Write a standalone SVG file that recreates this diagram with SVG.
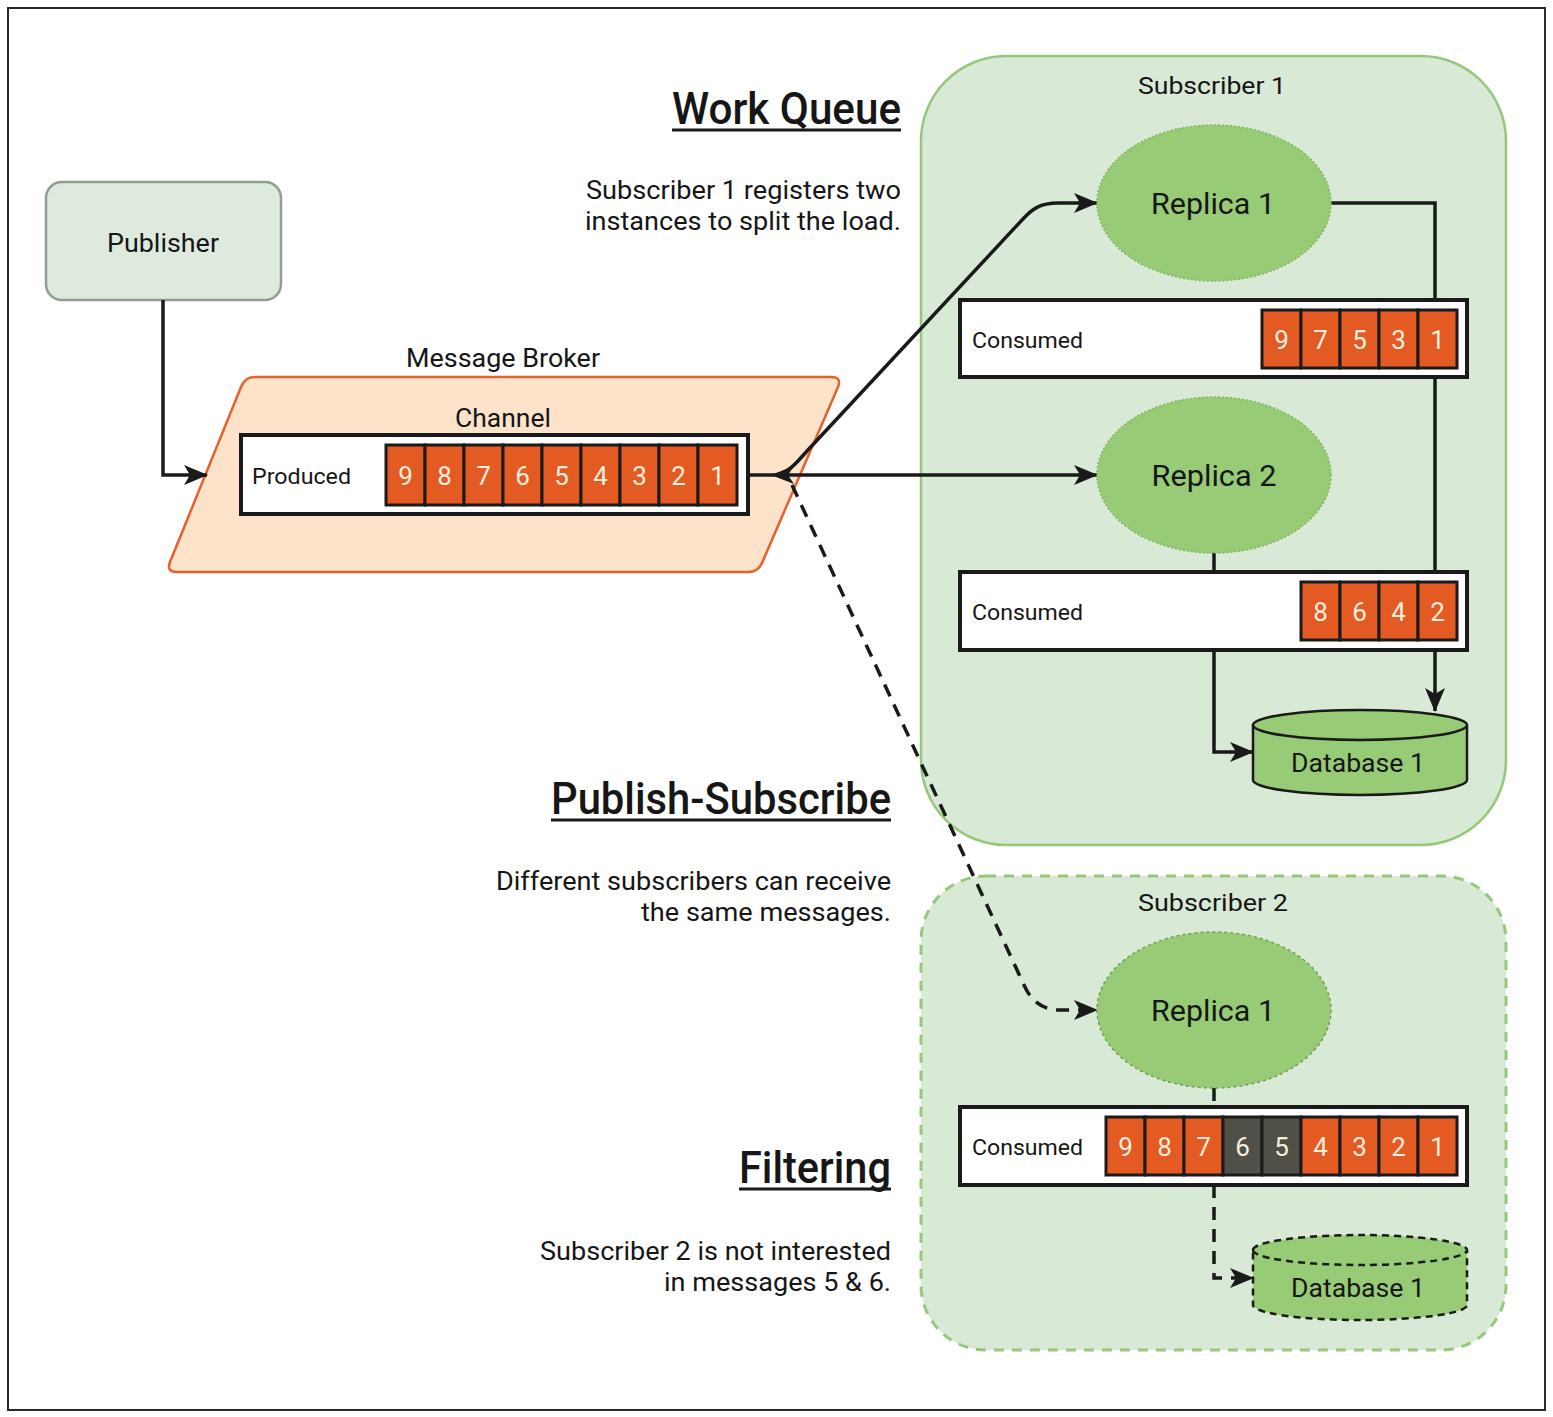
<svg xmlns="http://www.w3.org/2000/svg" width="1553" height="1417" viewBox="0 0 1553 1417">
<style>
text{font-family:Roboto,"Liberation Sans",Arial,sans-serif;fill:#161616}
.lbl{font-size:24px}
.sm{font-size:22px}
.title{font-size:44px;font-weight:500;text-anchor:end}
.note{font-size:25px;text-anchor:end}
.rep{font-size:30px;text-anchor:middle}
.num{font-size:26px;fill:#f6eedf;text-anchor:middle}
.cell{fill:#e35a22;stroke:#1a1a1a;stroke-width:3}
.grey{fill:#505048;stroke:#1a1a1a;stroke-width:3}
.box{fill:#ffffff;stroke:#1a1a1a;stroke-width:4}
.ell{fill:#97cb76;stroke:#82b464;stroke-width:1.5;stroke-dasharray:2 2}
.db{fill:#97cb76;stroke:#1a1a1a;stroke-width:2.5}
.ln{fill:none;stroke:#1a1a1a;stroke-width:3.5}
.dash{stroke-dasharray:13 9}
.ul{stroke:#1a1a1a;stroke-width:3}
</style>
<defs>
<marker id="arr" viewBox="0 0 24 20" refX="23" refY="10" markerWidth="24" markerHeight="20" markerUnits="userSpaceOnUse" orient="auto">
<path d="M0,0 L24,10 L0,20 L6,10 Z" fill="#1a1a1a"/>
</marker>
</defs>
<rect x="0" y="0" width="1553" height="1417" fill="#ffffff"/>
<rect x="8" y="8" width="1537" height="1402" fill="none" stroke="#2a2a2a" stroke-width="2"/>

<g id="texts">
<text class="title" x="901" y="124" textLength="229" lengthAdjust="spacingAndGlyphs">Work Queue</text>
<line class="ul" x1="672" y1="130" x2="901" y2="130"/>
<text class="note" x="901" y="199" textLength="315" lengthAdjust="spacingAndGlyphs">Subscriber 1 registers two</text>
<text class="note" x="901" y="230" textLength="316" lengthAdjust="spacingAndGlyphs">instances to split the load.</text>
<text class="title" x="891" y="814" textLength="340" lengthAdjust="spacingAndGlyphs">Publish-Subscribe</text>
<line class="ul" x1="551" y1="820" x2="891" y2="820"/>
<text class="note" x="891" y="890" textLength="395" lengthAdjust="spacingAndGlyphs">Different subscribers can receive</text>
<text class="note" x="891" y="921" textLength="250" lengthAdjust="spacingAndGlyphs">the same messages.</text>
<text class="title" x="891" y="1183" textLength="152" lengthAdjust="spacingAndGlyphs">Filtering</text>
<line class="ul" x1="739" y1="1189" x2="891" y2="1189"/>
<text class="note" x="891" y="1260" textLength="351" lengthAdjust="spacingAndGlyphs">Subscriber 2 is not interested</text>
<text class="note" x="891" y="1291" textLength="227" lengthAdjust="spacingAndGlyphs">in messages 5 &amp; 6.</text>
</g>

<g id="subscriber1">
<rect x="921" y="56" width="585" height="789" rx="85" fill="#d8e9d6" stroke="#96c87a" stroke-width="2.5"/>
<text class="lbl" x="1212" y="94" text-anchor="middle" textLength="148" lengthAdjust="spacingAndGlyphs">Subscriber 1</text>
</g>

<g id="subscriber2">
<rect x="921" y="876" width="585" height="474" rx="65" fill="#d8e9d6" stroke="#96c87a" stroke-width="3" stroke-dasharray="10 8"/>
<text class="lbl" x="1213" y="911" text-anchor="middle" textLength="150" lengthAdjust="spacingAndGlyphs">Subscriber 2</text>
</g>

<g id="publisher">
<rect x="46" y="182" width="235" height="118" rx="16" fill="#dfeadf" stroke="#8e9e90" stroke-width="2.5"/>
<text x="163" y="252" font-size="26" text-anchor="middle" textLength="112" lengthAdjust="spacingAndGlyphs">Publisher</text>
</g>

<g id="broker">
<text x="503" y="367" font-size="25" text-anchor="middle" textLength="194" lengthAdjust="spacingAndGlyphs">Message Broker</text>
<path d="M254 377 L831 377 Q842 377 838 387 L762 563 Q758 572 748 572 L177 572 Q166 572 170 562 L241 387 Q245 377 254 377 Z" fill="#fce3ca" stroke="#e8602c" stroke-width="2.5"/>
<text x="503" y="427" font-size="25" text-anchor="middle" textLength="96" lengthAdjust="spacingAndGlyphs">Channel</text>
</g>

<g id="connectors">
<path class="ln" d="M163 300 V475 H207" marker-end="url(#arr)"/>
<path class="ln" d="M748 475 H1097" marker-end="url(#arr)"/>
<path class="ln" d="M776 475 C790 472 797 462 807 451 L1022 220 C1032 209 1040 203 1058 203 L1097 203" marker-end="url(#arr)"/>
<path d="M771 475 L794 466 L788 475 L794 484 Z" fill="#1a1a1a"/>
<path class="ln dash" d="M792 485 L1024 985 Q1034 1008 1056 1010 L1097 1010" marker-end="url(#arr)"/>
<path class="ln" d="M1331 203 H1435 V711" marker-end="url(#arr)"/>
<path class="ln" d="M1214 553 V752 H1253" marker-end="url(#arr)"/>
<path class="ln dash" d="M1214 1088 V1107"/>
<path class="ln dash" d="M1214 1185 V1278 H1253" marker-end="url(#arr)"/>
</g>

<g id="produced">
<rect class="box" x="241" y="435" width="507" height="79"/>
<text class="sm" x="252" y="484" textLength="99" lengthAdjust="spacingAndGlyphs">Produced</text>
<rect class="cell" x="386" y="445" width="39" height="60"/><text class="num" x="405.5" y="485">9</text>
<rect class="cell" x="425" y="445" width="39" height="60"/><text class="num" x="444.5" y="485">8</text>
<rect class="cell" x="464" y="445" width="39" height="60"/><text class="num" x="483.5" y="485">7</text>
<rect class="cell" x="503" y="445" width="39" height="60"/><text class="num" x="522.5" y="485">6</text>
<rect class="cell" x="542" y="445" width="39" height="60"/><text class="num" x="561.5" y="485">5</text>
<rect class="cell" x="581" y="445" width="39" height="60"/><text class="num" x="600.5" y="485">4</text>
<rect class="cell" x="620" y="445" width="39" height="60"/><text class="num" x="639.5" y="485">3</text>
<rect class="cell" x="659" y="445" width="39" height="60"/><text class="num" x="678.5" y="485">2</text>
<rect class="cell" x="698" y="445" width="39" height="60"/><text class="num" x="717.5" y="485">1</text>
</g>

<g id="s1-replica1">
<ellipse class="ell" cx="1214" cy="203" rx="117" ry="78"/>
<text class="rep" x="1213" y="214" textLength="124" lengthAdjust="spacingAndGlyphs">Replica 1</text>
</g>

<g id="s1-consumed1">
<rect class="box" x="960" y="300" width="507" height="77"/>
<text class="sm" x="972" y="348" textLength="111" lengthAdjust="spacingAndGlyphs">Consumed</text>
<rect class="cell" x="1262" y="310" width="39" height="58"/><text class="num" x="1281.5" y="349">9</text>
<rect class="cell" x="1301" y="310" width="39" height="58"/><text class="num" x="1320.5" y="349">7</text>
<rect class="cell" x="1340" y="310" width="39" height="58"/><text class="num" x="1359.5" y="349">5</text>
<rect class="cell" x="1379" y="310" width="39" height="58"/><text class="num" x="1398.5" y="349">3</text>
<rect class="cell" x="1418" y="310" width="39" height="58"/><text class="num" x="1437.5" y="349">1</text>
</g>

<g id="s1-replica2">
<ellipse class="ell" cx="1214" cy="475" rx="117" ry="78"/>
<text class="rep" x="1214" y="486" textLength="125" lengthAdjust="spacingAndGlyphs">Replica 2</text>
</g>

<g id="s1-consumed2">
<rect class="box" x="960" y="572" width="507" height="78"/>
<text class="sm" x="972" y="620" textLength="111" lengthAdjust="spacingAndGlyphs">Consumed</text>
<rect class="cell" x="1301" y="582" width="39" height="58"/><text class="num" x="1320.5" y="621">8</text>
<rect class="cell" x="1340" y="582" width="39" height="58"/><text class="num" x="1359.5" y="621">6</text>
<rect class="cell" x="1379" y="582" width="39" height="58"/><text class="num" x="1398.5" y="621">4</text>
<rect class="cell" x="1418" y="582" width="39" height="58"/><text class="num" x="1437.5" y="621">2</text>
</g>

<g id="s1-database">
<path class="db" d="M1253 725 A107 15 0 0 1 1467 725 V780 A107 15 0 0 1 1253 780 Z"/>
<path class="db" fill="none" d="M1253 725 A107 15 0 0 0 1467 725"/>
<text x="1358" y="772" font-size="25" text-anchor="middle" textLength="134" lengthAdjust="spacingAndGlyphs">Database 1</text>
</g>

<g id="s2-replica1">
<ellipse cx="1214" cy="1010" rx="117" ry="78" fill="#97cb76" stroke="#6f9e55" stroke-width="1.5" stroke-dasharray="3 3"/>
<text class="rep" x="1213" y="1021" textLength="124" lengthAdjust="spacingAndGlyphs">Replica 1</text>
</g>

<g id="s2-consumed">
<rect class="box" x="960" y="1107" width="507" height="78"/>
<text class="sm" x="972" y="1155" textLength="111" lengthAdjust="spacingAndGlyphs">Consumed</text>
<rect class="cell" x="1106" y="1117" width="39" height="58"/><text class="num" x="1125.5" y="1156">9</text>
<rect class="cell" x="1145" y="1117" width="39" height="58"/><text class="num" x="1164.5" y="1156">8</text>
<rect class="cell" x="1184" y="1117" width="39" height="58"/><text class="num" x="1203.5" y="1156">7</text>
<rect class="grey" x="1223" y="1117" width="39" height="58"/><text class="num" x="1242.5" y="1156">6</text>
<rect class="grey" x="1262" y="1117" width="39" height="58"/><text class="num" x="1281.5" y="1156">5</text>
<rect class="cell" x="1301" y="1117" width="39" height="58"/><text class="num" x="1320.5" y="1156">4</text>
<rect class="cell" x="1340" y="1117" width="39" height="58"/><text class="num" x="1359.5" y="1156">3</text>
<rect class="cell" x="1379" y="1117" width="39" height="58"/><text class="num" x="1398.5" y="1156">2</text>
<rect class="cell" x="1418" y="1117" width="39" height="58"/><text class="num" x="1437.5" y="1156">1</text>
</g>

<g id="s2-database">
<path class="db" stroke-dasharray="7 5" d="M1253 1250 A107 15 0 0 1 1467 1250 V1305 A107 15 0 0 1 1253 1305 Z"/>
<path class="db" fill="none" stroke-dasharray="7 5" d="M1253 1250 A107 15 0 0 0 1467 1250"/>
<text x="1358" y="1297" font-size="25" text-anchor="middle" textLength="134" lengthAdjust="spacingAndGlyphs">Database 1</text>
</g>
</svg>
